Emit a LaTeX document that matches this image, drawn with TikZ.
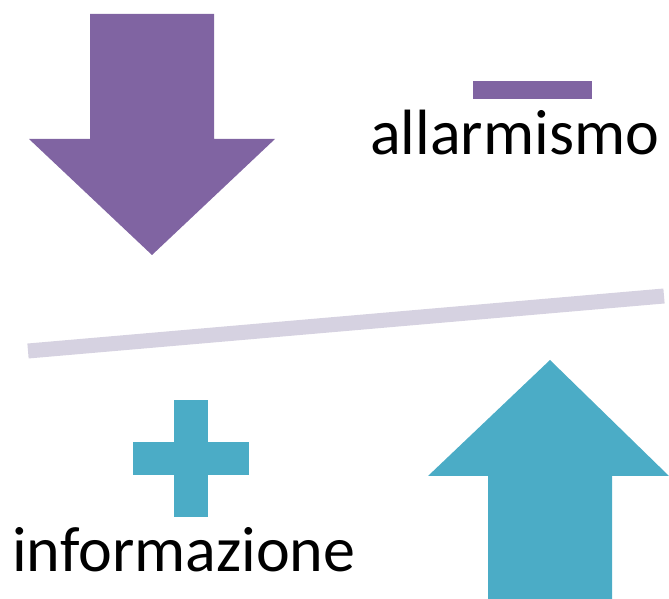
\documentclass[tikz,border=0pt]{standalone}
\usepackage{fontspec}
\setmainfont{Carlito}

\definecolor{downpurple}{HTML}{8064A2}
\definecolor{upblue}{HTML}{4BACC6}
\definecolor{beamgray}{HTML}{D6D2E1}

\tikzset{
    label text/.style={anchor=base west, inner sep=0pt, font=\fontsize{48}{54}\selectfont}
}

\begin{document}
\begin{tikzpicture}[x=0.75pt, y=-0.75pt]
        \useasboundingbox (0,0) rectangle (669,599);

        % down arrow and minus sign
        \fill[downpurple] (90,14) -- (214,14) -- (214,139) -- (275,139) -- (152,255) -- (29,139) -- (90,139) -- cycle;
        \fill[downpurple] (473,81) rectangle (592,99);
        \node[label text] (allarm) at (370,155) {allarmismo};

        % tilted beam
        \draw[beamgray, line width=11.25pt] (28,351) -- (664,296);

        % plus sign and up arrow
        \fill[upblue] (133,442) rectangle (249,475);
        \fill[upblue] (174,400) rectangle (208,517);
        \node[label text] (inform) at (12,572) {informazione};
        \fill[upblue] (488,599) -- (488,476) -- (428,476) -- (550,360) -- (669,476) -- (612,476) -- (612,599) -- cycle;
    \end{tikzpicture}
\end{document}
